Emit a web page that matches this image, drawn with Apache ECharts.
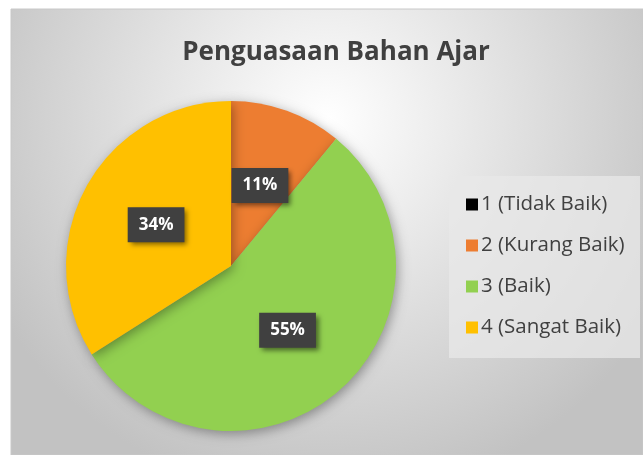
<!DOCTYPE html>
<html><head><meta charset="utf-8">
<script src="https://cdn.jsdelivr.net/npm/echarts@6/dist/echarts.min.js"></script>
<style>html,body{margin:0;padding:0;background:#fff}#c{width:643px;height:455px}</style>
</head><body><div id="c"></div>
<script>
var categories = ['1 (Tidak Baik)', '2 (Kurang Baik)', '3 (Baik)', '4 (Sangat Baik)'];
var values = [0, 11, 55, 34];
var colors = ['#000000', '#ED7D31', '#92D050', '#FFC000'];
var titleText = 'Penguasaan Bahan Ajar';

var chart = echarts.init(document.getElementById('c'), null, {renderer: 'canvas'});
var font = '"Open Sans", "Noto Sans", sans-serif';
chart.setOption({
  animation: false,
  graphic: [
    {type: 'rect', silent: true, z: -10, shape: {x: 11, y: 9, width: 632, height: 446},
     style: {fill: {type: 'radial', x: 0.5, y: 0.25, r: 0.85,
       colorStops: [{offset: 0, color: '#ffffff'}, {offset: 1, color: '#c2c2c2'}]},
       stroke: '#c8c8c8', lineWidth: 1}},
    {type: 'rect', silent: true, z: -5, shape: {x: 449, y: 176, width: 191, height: 182},
     style: {fill: 'rgba(232,232,232,0.75)'}}
  ],
  title: {text: titleText, left: 331, top: 35, textAlign: 'center',
    textStyle: {fontFamily: font, fontWeight: 'bold', fontSize: 26, color: '#404040'}},
  legend: {orient: 'vertical', left: 461, top: 189, itemWidth: 12, itemHeight: 12, itemGap: 20,
    icon: 'rect', data: categories,
    textStyle: {fontFamily: font, fontSize: 20.5, color: '#404040', padding: [0,0,0,-2]}},
  series: [{
    type: 'pie', center: [231, 266], radius: 165, startAngle: 90, clockwise: true,
    data: categories.map(function(c, i){ return {name: c, value: values[i], itemStyle: {color: colors[i]},
      label: {show: values[i] > 0}}; }),
    itemStyle: {shadowBlur: 12, shadowColor: 'rgba(0,0,0,0.35)', shadowOffsetX: 2, shadowOffsetY: 3},
    label: {position: 'inside', formatter: function(p){ return Math.round(p.percent) + '%'; },
      fontFamily: font, fontWeight: 'bold', fontSize: 17, color: '#ffffff',
      backgroundColor: '#404040', padding: [10, 11, 8, 11],
      shadowBlur: 5, shadowColor: 'rgba(0,0,0,0.5)', shadowOffsetX: 3, shadowOffsetY: 3},
    labelLine: {show: false},
    emphasis: {disabled: true}
  }]
});
</script></body></html>
